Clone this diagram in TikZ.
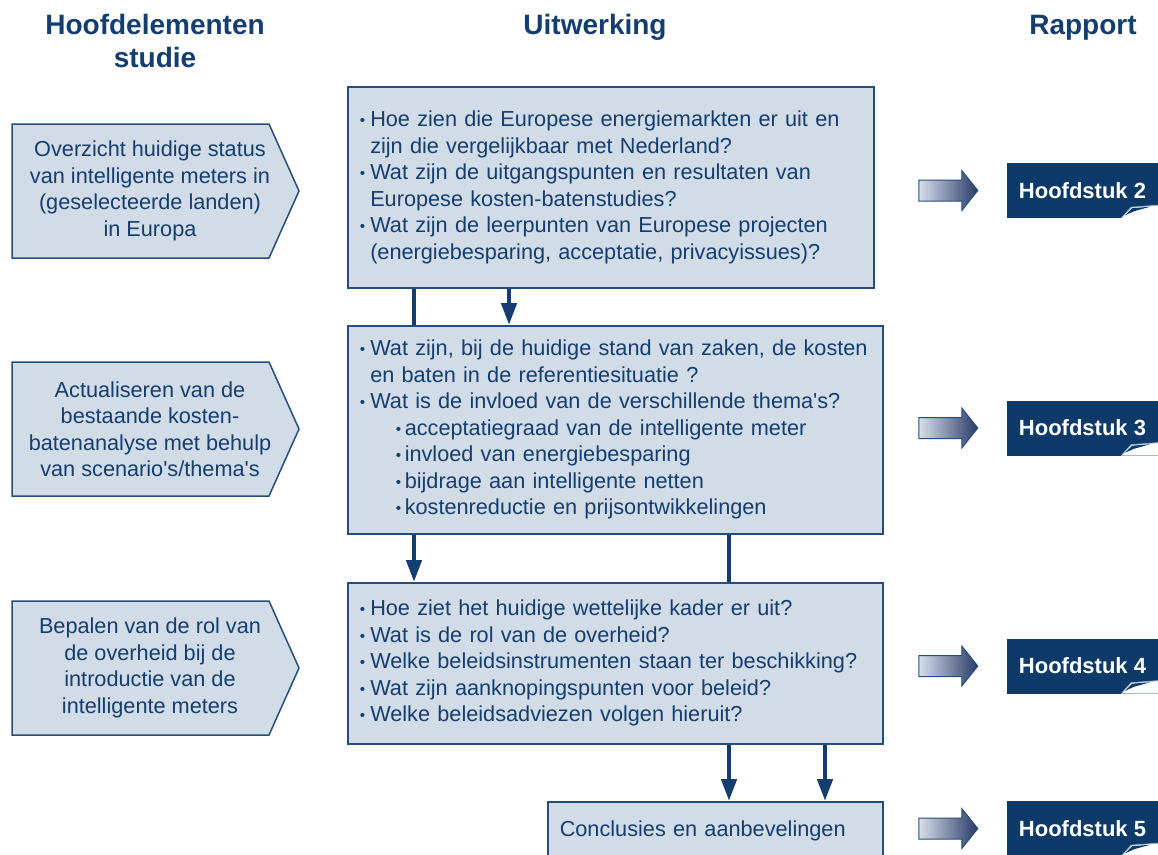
\documentclass[tikz,border=0pt]{standalone}
\usepackage{fontspec}
\setmainfont{Liberation Sans}
\usepackage{graphicx}
\usepackage{tikz}
\usetikzlibrary{arrows.meta}
\definecolor{ink}{RGB}{20,61,112}
\definecolor{boxfill}{RGB}{209,220,230}
\definecolor{boxline}{RGB}{38,78,124}
\definecolor{chapfill}{RGB}{14,58,106}
\definecolor{arrowlight}{RGB}{214,224,234}
\definecolor{arrowdark}{RGB}{40,58,104}
\definecolor{curlline}{RGB}{150,180,210}
\newcommand\smallbul{\raisebox{1pt}{\scalebox{0.7}{\textbullet}}}
\newcommand\bul[1]{\mbox{\makebox[10.5pt][l]{\smallbul}#1}}
\newcommand\cont[1]{\mbox{\hspace*{10.5pt}#1}}
\newcommand\sub[1]{\mbox{\hspace*{36pt}\makebox[9pt][l]{\smallbul}#1}}
\tikzset{head/.style={font=\fontsize{28}{33}\selectfont\bfseries,text=ink,align=center},
    elem/.style={font=\fontsize{21.7}{26.5}\selectfont,text=ink,align=center},
    elemshape/.style={draw=boxline,fill=boxfill,line width=1.5pt},
    question/.style={draw=boxline,fill=boxfill,line width=1.5pt,anchor=north west,
        font=\fontsize{21.7}{26.5}\selectfont,text=ink,align=left,inner xsep=12pt,inner ysep=0pt},
    chapter/.style={fill=chapfill,text=white,font=\fontsize{22}{26}\selectfont\bfseries,
        minimum width=151pt,minimum height=55pt},
    flow/.style={draw=ink,line width=4.5pt},
    flowarrow/.style={flow,-{Triangle[length=22pt,width=15pt]}}}

\begin{document}
\begin{tikzpicture}[x=1pt,y=-1pt]
\clip (0,0) rectangle (1158,854);

% kopjes
\node[head] (kopstudie) at (155,41) {Hoofdelementen\\studie};
\node[head,anchor=base] (kopuitw) at (595,34) {Uitwerking};
\node[head,anchor=base] (koprap) at (1083,34) {Rapport};

% hoofdelementen
\draw[elemshape] (12,124) -- (269,124) -- (299,191) -- (269,258) -- (12,258) -- cycle;
\node[elem] (elem1) at (150,191) {Overzicht huidige status\\van intelligente meters in\\(geselecteerde landen)\\in Europa};
\draw[elemshape] (12,362) -- (269,362) -- (299,429) -- (269,496) -- (12,496) -- cycle;
\node[elem] (elem2) at (150,429) {Actualiseren van de\\bestaande kosten-\\batenanalyse met behulp\\van scenario\textquotesingle s/thema\textquotesingle s};
\draw[elemshape] (12,601) -- (269,601) -- (299,668) -- (269,735) -- (12,735) -- cycle;
\node[elem] (elem3) at (150,668) {Bepalen van de rol van\\de overheid bij de\\introductie van de\\intelligente meters};

% uitwerking
\node[question,text width=502pt,minimum width=526pt,minimum height=201pt] (vraag1) at (347,86) {%
\bul{Hoe zien die Europese energiemarkten er uit en}\\
\cont{zijn die vergelijkbaar met Nederland?}\\
\bul{Wat zijn de uitgangspunten en resultaten van}\\
\cont{Europese kosten-batenstudies?}\\
\bul{Wat zijn de leerpunten van Europese projecten}\\
\cont{(energiebesparing, acceptatie, privacyissues)?}};
\node[question,text width=511pt,minimum width=535pt,minimum height=208pt] (vraag2) at (347,325) {%
\bul{Wat zijn, bij de huidige stand van zaken, de kosten}\\
\cont{en baten in de referentiesituatie ?}\\
\bul{Wat is de invloed van de verschillende thema\textquotesingle s?}\\
\sub{acceptatiegraad van de intelligente meter}\\
\sub{invloed van energiebesparing}\\
\sub{bijdrage aan intelligente netten}\\
\sub{kostenreductie en prijsontwikkelingen}};
\node[question,text width=511pt,minimum width=535pt,minimum height=161pt] (vraag3) at (347,582) {%
\bul{Hoe ziet het huidige wettelijke kader er uit?}\\
\bul{Wat is de rol van de overheid?}\\
\bul{Welke beleidsinstrumenten staan ter beschikking?}\\
\bul{Wat zijn aanknopingspunten voor beleid?}\\
\bul{Welke beleidsadviezen volgen hieruit?}};
\node[question,text width=311pt,minimum width=335pt,minimum height=58pt] (concl) at (547,801) {Conclusies en aanbevelingen};

% verbindingen
\coordinate (xa) at (414,0);
\coordinate (xb) at (509,0);
\coordinate (xc) at (729,0);
\coordinate (xd) at (825,0);
\draw[flow] (vraag1.south -| xa) -- (vraag2.north -| xa);
\draw[flowarrow] (vraag1.south -| xb) -- (vraag2.north -| xb);
\draw[flowarrow] (vraag2.south -| xa) -- (vraag3.north -| xa);
\draw[flow] (vraag2.south -| xc) -- (vraag3.north -| xc);
\draw[flowarrow] (vraag3.south -| xc) -- (concl.north -| xc);
\draw[flowarrow] (vraag3.south -| xd) -- (concl.north -| xd);

% rapport
\foreach \n/\y in {2/190.5,3/428,4/666,5/828.5}{
    \node[chapter] (hfd\n) at (1082.5,\y) {Hoofdstuk \n};
    \fill[white] ([xshift=-37pt]hfd\n.south east) -- ([xshift=-27pt,yshift=11pt]hfd\n.south east)
        -- ([yshift=13pt]hfd\n.south east) -- (hfd\n.south east) -- cycle;
    \draw[curlline,line width=0.8pt] ([xshift=-37pt]hfd\n.south east) -- ([xshift=-27pt,yshift=11pt]hfd\n.south east)
        -- ([yshift=13pt]hfd\n.south east);
    \fill[chapfill] ([xshift=-33pt,yshift=3pt]hfd\n.south east) -- ([xshift=-26pt,yshift=10pt]hfd\n.south east)
        -- ([xshift=-8pt,yshift=11.5pt]hfd\n.south east) -- ([xshift=-24pt,yshift=7pt]hfd\n.south east) -- cycle;
    \shadedraw[left color=arrowlight,right color=arrowdark,draw=boxline,line width=1pt]
        ([xshift=-88pt,yshift=10.5pt]hfd\n.west) -- ([xshift=-45pt,yshift=10.5pt]hfd\n.west)
        -- ([xshift=-45pt,yshift=20pt]hfd\n.west) -- ([xshift=-29pt]hfd\n.west)
        -- ([xshift=-45pt,yshift=-20pt]hfd\n.west) -- ([xshift=-45pt,yshift=-10.5pt]hfd\n.west)
        -- ([xshift=-88pt,yshift=-10.5pt]hfd\n.west) -- cycle;
}
\end{tikzpicture}
\end{document}
